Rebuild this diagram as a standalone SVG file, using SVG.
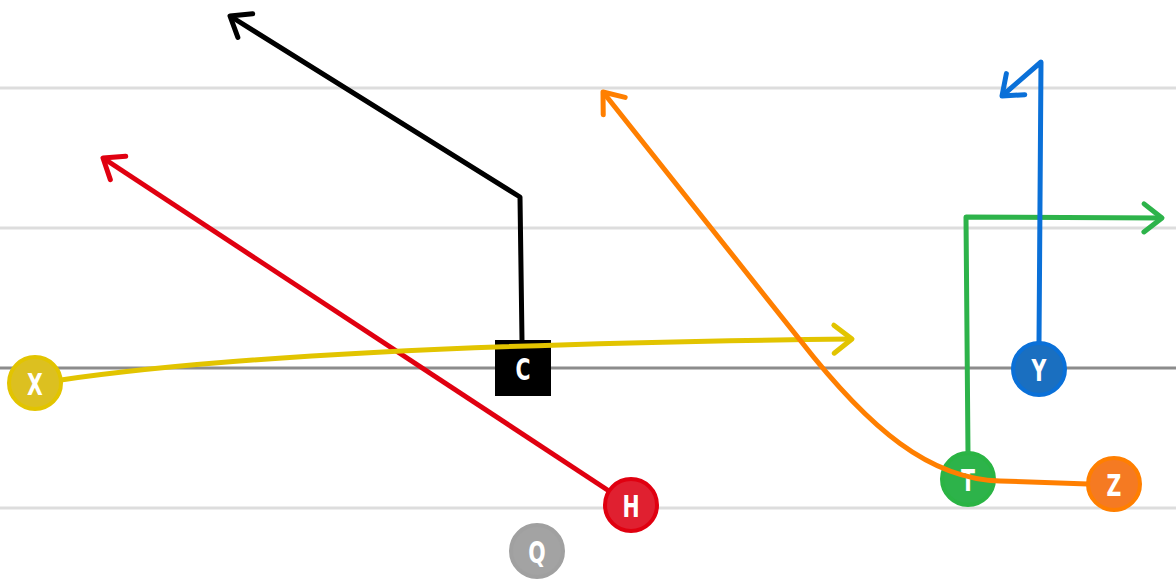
<svg xmlns="http://www.w3.org/2000/svg" width="1176" height="581" viewBox="0 0 1176 581">
<style>
.grid{stroke:#dddddd;stroke-width:3}
.los{stroke:#8c8c8c;stroke-width:3}
.route{fill:none;stroke-width:5;stroke-linejoin:round}
.lbl{font-family:"DejaVu Sans",sans-serif;font-weight:bold;font-size:31px;fill:#fff;text-anchor:middle;dominant-baseline:central}
.node{stroke-width:4}
</style>
<defs>
<marker id="ak" markerUnits="userSpaceOnUse" markerWidth="40" markerHeight="40" viewBox="-30 -20 40 40" refX="0" refY="0" orient="auto"><path d="M-18,-14 L0,0 L-18,14" fill="none" stroke="#000" stroke-width="5" stroke-linecap="round" stroke-linejoin="round"/></marker>
<marker id="ar" markerUnits="userSpaceOnUse" markerWidth="40" markerHeight="40" viewBox="-30 -20 40 40" refX="0" refY="0" orient="auto"><path d="M-18,-14 L0,0 L-18,14" fill="none" stroke="#e00010" stroke-width="5" stroke-linecap="round" stroke-linejoin="round"/></marker>
<marker id="ay" markerUnits="userSpaceOnUse" markerWidth="40" markerHeight="40" viewBox="-30 -20 40 40" refX="0" refY="0" orient="auto"><path d="M-18,-14 L0,0 L-18,14" fill="none" stroke="#e2c400" stroke-width="5" stroke-linecap="round" stroke-linejoin="round"/></marker>
<marker id="ao" markerUnits="userSpaceOnUse" markerWidth="40" markerHeight="40" viewBox="-30 -20 40 40" refX="0" refY="0" orient="auto"><path d="M-18,-14 L0,0 L-18,14" fill="none" stroke="#ff7f00" stroke-width="5" stroke-linecap="round" stroke-linejoin="round"/></marker>
<marker id="ag" markerUnits="userSpaceOnUse" markerWidth="40" markerHeight="40" viewBox="-30 -20 40 40" refX="0" refY="0" orient="auto"><path d="M-18,-14 L0,0 L-18,14" fill="none" stroke="#2db34a" stroke-width="5" stroke-linecap="round" stroke-linejoin="round"/></marker>
<marker id="ab" markerUnits="userSpaceOnUse" markerWidth="40" markerHeight="40" viewBox="-30 -20 40 40" refX="0" refY="0" orient="auto"><path d="M-18,-14 L0,0 L-18,14" fill="none" stroke="#0a70d8" stroke-width="5" stroke-linecap="round" stroke-linejoin="round"/></marker>
</defs>
<rect width="1176" height="581" fill="#fff"/>
<g id="field">
<line class="grid" x1="0" y1="88" x2="1176" y2="88"/>
<line class="grid" x1="0" y1="228" x2="1176" y2="228"/>
<line class="grid" x1="0" y1="508" x2="1176" y2="508"/>
<line class="los" x1="0" y1="368" x2="1176" y2="368"/>
</g>
<g id="node-X"><circle class="node" cx="35" cy="383" r="26" fill="#dcc020" stroke="#e2c400"/><text class="lbl" transform="translate(35,384) scale(0.66,1)">X</text></g>
<g id="node-C"><rect x="495" y="340" width="56" height="56" fill="#000"/><text class="lbl" transform="translate(523,369) scale(0.66,1)">C</text></g>
<g id="node-H"><circle class="node" cx="631" cy="505" r="26" fill="#e02030" stroke="#e00010"/><text class="lbl" transform="translate(631,506) scale(0.66,1)">H</text></g>
<g id="node-Q"><circle class="node" cx="537" cy="551" r="26" fill="#a3a3a3" stroke="#a0a0a0"/><text class="lbl" transform="translate(537,552) scale(0.66,1)">Q</text></g>
<g id="node-T"><circle class="node" cx="968" cy="479" r="26" fill="#2db34a" stroke="#2ab444"/><text class="lbl" transform="translate(968,480) scale(0.66,1)">T</text></g>
<g id="node-Z"><circle class="node" cx="1114" cy="484" r="26" fill="#f57a22" stroke="#ff7f00"/><text class="lbl" transform="translate(1114,485) scale(0.66,1)">Z</text></g>
<g id="node-Y"><circle class="node" cx="1039" cy="369" r="26" fill="#1a6fc0" stroke="#0a70d8"/><text class="lbl" transform="translate(1039,370) scale(0.66,1)">Y</text></g>
<g id="connectors">
<path class="route" stroke="#000" d="M522,340 L520,197 L230,16" marker-end="url(#ak)"/>
<path class="route" stroke="#e00010" d="M609,491 L103,158" marker-end="url(#ar)"/>
<path class="route" stroke="#e2c400" d="M61,380 Q300,345 852,339" marker-end="url(#ay)"/>
<path class="route" stroke="#ff7f00" d="M1088,484 L1000,481 C930,479 870,430 800,340 L603,92" marker-end="url(#ao)"/>
<path class="route" stroke="#2db34a" d="M968,453 L966,217 L1162,218" marker-end="url(#ag)"/>
<path class="route" stroke="#0a70d8" d="M1039,343 L1041,62 L1002,96" marker-end="url(#ab)"/>
</g>
</svg>
